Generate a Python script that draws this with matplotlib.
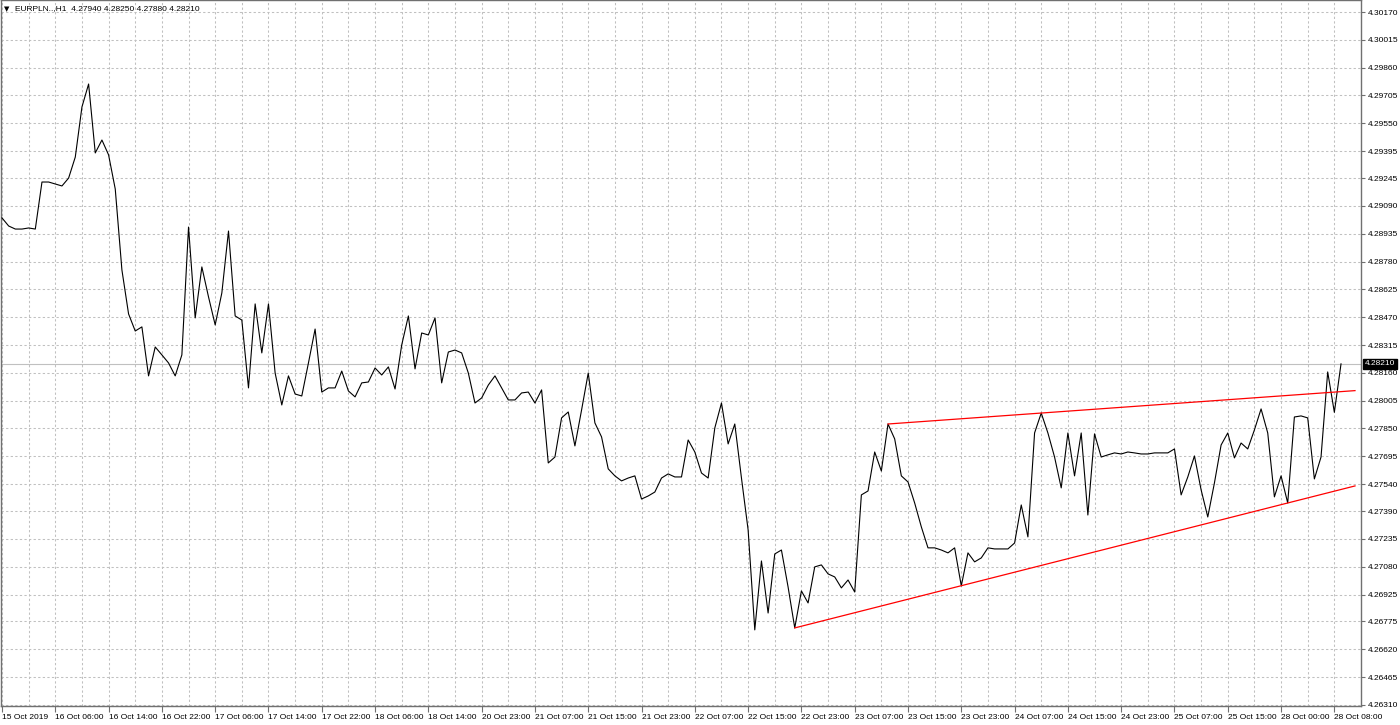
import matplotlib
matplotlib.use("Agg")
import matplotlib.pyplot as plt
import matplotlib.transforms as mtransforms

SYMBOL = "EURPLN..,H1"
OHLC = ["4.27940", "4.28250", "4.27880", "4.28210"]
LAST_PRICE = 4.28210

# hourly closes, one per bar
closes = [
    4.29023, 4.28978, 4.28961, 4.28961, 4.28967, 4.28961, 4.29223, 4.29223,
    4.29212, 4.29201, 4.29245, 4.29362, 4.29641, 4.29769, 4.29385, 4.29457,
    4.29374, 4.29184, 4.28733, 4.28488, 4.28393, 4.28416, 4.28143, 4.28304,
    4.28260, 4.28215, 4.28143, 4.28260, 4.28972, 4.28466, 4.28750, 4.28583,
    4.28427, 4.28605, 4.28950, 4.28477, 4.28454, 4.28076, 4.28544, 4.28271,
    4.28544, 4.28159, 4.27981, 4.28143, 4.28042, 4.28031, 4.28215, 4.28404,
    4.28053, 4.28076, 4.28076, 4.28170, 4.28059, 4.28026, 4.28104, 4.28109,
    4.28187, 4.28148, 4.28193, 4.28070, 4.28315, 4.28477, 4.28182, 4.28382,
    4.28371, 4.28466, 4.28104, 4.28276, 4.28287, 4.28271, 4.28159, 4.27992,
    4.28020, 4.28092, 4.28143, 4.28076, 4.28009, 4.28009, 4.28048, 4.28053,
    4.27992, 4.28065, 4.27658, 4.27691, 4.27909, 4.27942, 4.27753, 4.27953,
    4.28159, 4.27881, 4.27803, 4.27625, 4.27586, 4.27558, 4.27574, 4.27586,
    4.27457, 4.27474, 4.27496, 4.27574, 4.27597, 4.27580, 4.27580, 4.27786,
    4.27719, 4.27602, 4.27574, 4.27853, 4.27992, 4.27764, 4.27875, 4.27574,
    4.27285, 4.26728, 4.27112, 4.26822, 4.27151, 4.27173, 4.26967, 4.26739,
    4.26945, 4.26878, 4.27079, 4.27090, 4.27040, 4.27023, 4.26962, 4.27006,
    4.26939, 4.27480, 4.27502, 4.27719, 4.27613, 4.27875, 4.27792, 4.27586,
    4.27552, 4.27435, 4.27302, 4.27185, 4.27185, 4.27173, 4.27157, 4.27185,
    4.26973, 4.27157, 4.27107, 4.27129, 4.27185, 4.27179, 4.27179, 4.27179,
    4.27212, 4.27424, 4.27246, 4.27825, 4.27936, 4.27825, 4.27691, 4.27519,
    4.27825, 4.27586, 4.27825, 4.27368, 4.27820, 4.27691, 4.27703, 4.27714,
    4.27708, 4.27719, 4.27714, 4.27708, 4.27708, 4.27714, 4.27714, 4.27714,
    4.27736, 4.27480, 4.27580, 4.27697, 4.27508, 4.27357, 4.27547, 4.27758,
    4.27825, 4.27686, 4.27769, 4.27736, 4.27842, 4.27959, 4.27825, 4.27469,
    4.27586, 4.27435, 4.27914, 4.27920, 4.27909, 4.27569, 4.27691, 4.28165,
    4.27940, 4.28210,
]

time_labels = [
    "15 Oct 2019", "16 Oct 06:00", "16 Oct 14:00", "16 Oct 22:00",
    "17 Oct 06:00", "17 Oct 14:00", "17 Oct 22:00", "18 Oct 06:00",
    "18 Oct 14:00", "20 Oct 23:00", "21 Oct 07:00", "21 Oct 15:00",
    "21 Oct 23:00", "22 Oct 07:00", "22 Oct 15:00", "22 Oct 23:00",
    "23 Oct 07:00", "23 Oct 15:00", "23 Oct 23:00", "24 Oct 07:00",
    "24 Oct 15:00", "24 Oct 23:00", "25 Oct 07:00", "25 Oct 15:00",
    "28 Oct 00:00", "28 Oct 08:00",
]
BARS_PER_LABEL = 8

price_labels = [
    "4.26310", "4.26465", "4.26620", "4.26775", "4.26925", "4.27080",
    "4.27235", "4.27390", "4.27540", "4.27695", "4.27850", "4.28005",
    "4.28160", "4.28315", "4.28470", "4.28625", "4.28780", "4.28935",
    "4.29090", "4.29245", "4.29395", "4.29550", "4.29705", "4.29860",
    "4.30015", "4.30170",
]

# trend lines: two anchor bars each (support through lows, resistance through highs)
support_bars = [119, 193]
resistance_bars = [133, 156]

BORDER = "#707070"
GRID = "#c0c0c0"
FONT = "Liberation Sans"
FS = 6

fig = plt.figure(figsize=(14, 7.25), dpi=100)
ax = fig.add_axes([1 / 1400, 19 / 725, 1360 / 1400, 706 / 725])

x = list(range(len(closes)))
x_left, x_right = -0.15, 203.1
ax.set_xlim(x_left, x_right)
ax.set_ylim(4.26304, 4.30237)

# grid: one dashed line per price label, vertical every half label step
ax.set_yticks([float(p) for p in price_labels])
ax.set_yticks([], minor=True)
ax.set_xticks([i * BARS_PER_LABEL for i in range(len(time_labels))])
ax.set_xticks([i * BARS_PER_LABEL + BARS_PER_LABEL // 2 for i in range(len(time_labels))], minor=True)
ax.grid(which="both", color=GRID, linestyle=(0, (2.2, 2.2)), linewidth=0.75)
ax.set_axisbelow(True)

# current price line
ax.axhline(LAST_PRICE, color=GRID, linewidth=0.8, zorder=1)

ax.plot(x, closes, color="black", linewidth=0.8, zorder=3)


def ray(bars, color):
    b0, b1 = bars
    p0, p1 = closes[b0], closes[b1]
    slope = (p1 - p0) / (b1 - b0)
    ax.plot([b0, x_right], [p0, p0 + slope * (x_right - b0)], color=color,
            linewidth=0.9, zorder=4, clip_on=True)


ray(support_bars, "#ff0000")
ray(resistance_bars, "#ff0000")

# axes styling
for side in ["left", "right", "bottom", "top"]:
    ax.spines[side].set_color(BORDER)
    ax.spines[side].set_linewidth(1.0)

ax.yaxis.tick_right()
ax.set_yticklabels(price_labels, fontsize=FS, family=FONT)
ax.tick_params(axis="y", which="major", length=3, width=0.8, color=BORDER, pad=2)
ax.set_xticklabels(time_labels, fontsize=FS, family=FONT, ha="left")
ax.tick_params(axis="x", which="major", length=4, width=0.8, color=BORDER, pad=1.5)
ax.tick_params(axis="x", which="minor", length=0)

# last price box on the price scale
trans = mtransforms.blended_transform_factory(ax.transAxes, ax.transData)
ax.text(1.0 + 4 / 1360, LAST_PRICE, "%.5f" % LAST_PRICE, transform=trans,
        fontsize=FS, family=FONT, color="white", va="center", ha="left",
        bbox=dict(boxstyle="square,pad=0.2", facecolor="black", edgecolor="black"),
        zorder=10, clip_on=False)

# header
fig.text(4 / 1400, 1 - 9 / 725, "\u25bc", fontsize=5, color="black",
         va="center", ha="left", family="DejaVu Sans")
fig.text(15 / 1400, 1 - 9 / 725, SYMBOL + "  " + " ".join(OHLC), fontsize=FS,
         family=FONT, color="black", va="center", ha="left")

fig.savefig("out.png", dpi=100, facecolor="white")
